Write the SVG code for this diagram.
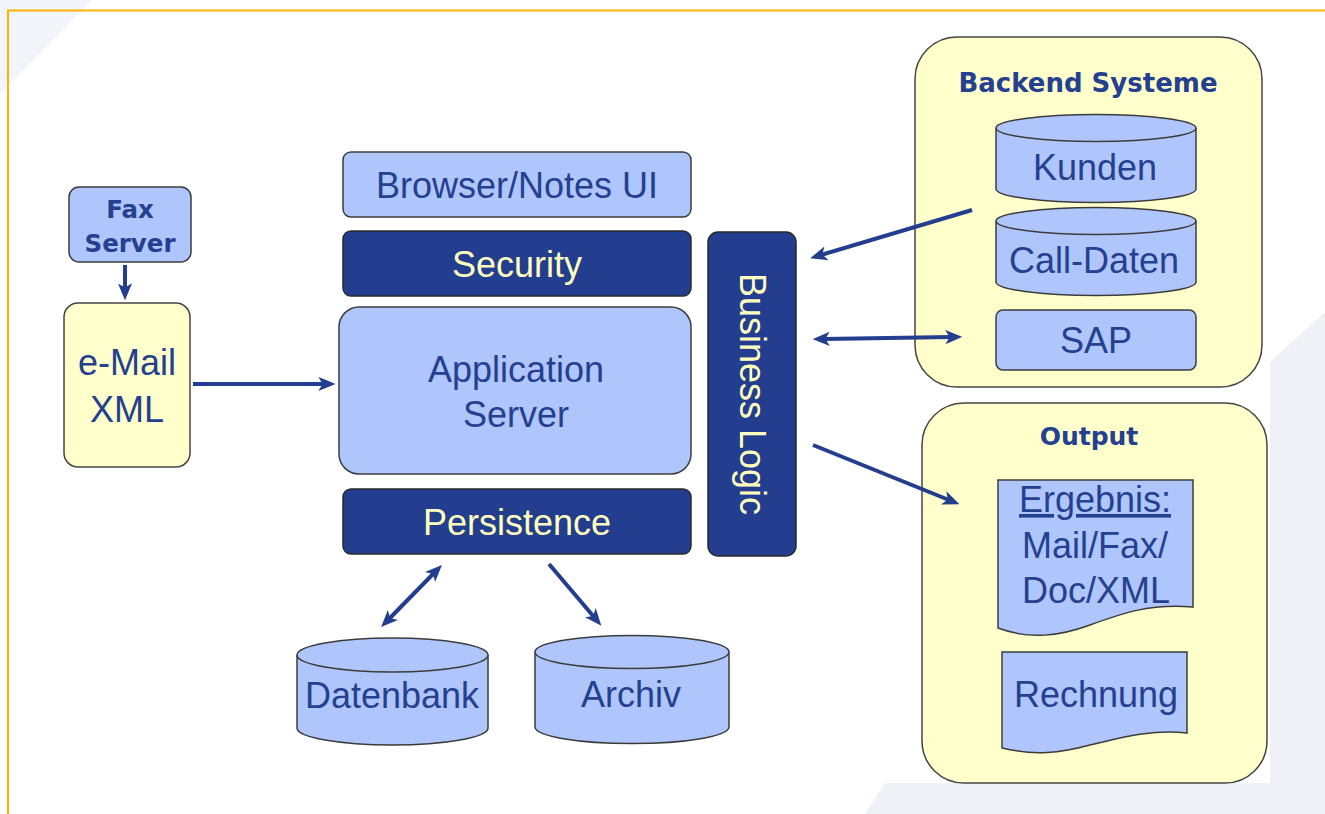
<svg xmlns="http://www.w3.org/2000/svg" width="1325" height="814" viewBox="0 0 1325 814">
<style>
.lt{fill:#AFC6FD;stroke:#3c3c3c;stroke-width:1.5}
.dk{fill:#233E8E;stroke:#2a2a2a;stroke-width:1.5}
.yl{fill:#FFFFCC;stroke:#444;stroke-width:1.5}
.t{font-family:"Liberation Sans",Arial,sans-serif;font-size:36px;fill:#24408F;text-anchor:middle}
.ty{font-family:"Liberation Sans",Arial,sans-serif;font-size:36px;fill:#FFFFC0;text-anchor:middle}
.tb{font-family:"DejaVu Sans",Verdana,sans-serif;font-weight:bold;fill:#24408F;text-anchor:middle}
.arr{stroke:#233E8E;stroke-width:4;fill:none;marker-end:url(#ah)}
.dbl{marker-start:url(#ah)}
</style>
<defs>
<marker id="ah" viewBox="0 0 12 10" refX="4" refY="5" markerWidth="17" markerHeight="15" markerUnits="userSpaceOnUse" orient="auto-start-reverse">
<path d="M0,0 L12,5 L0,10 L3,5 Z" fill="#233E8E"/>
</marker>
</defs>
<rect width="1325" height="814" fill="#ffffff"/>
<polygon points="0,0 92,0 0,94" fill="#F1F4F8"/>
<polygon points="1325,312 1270,362 1270,783 885,783 865,814 1325,814" fill="#EEF2F7"/>
<path d="M8,814 V10.5 H1325" fill="none" stroke="#FFB300" stroke-width="2"/>

<g id="fax-server">
<rect class="lt" x="69" y="187" width="122" height="75" rx="10"/>
<text class="tb" x="130" y="218" font-size="24.5">Fax</text>
<text class="tb" x="130" y="252" font-size="24.5">Server</text>
</g>
<g id="email-xml">
<rect class="yl" x="64" y="303" width="126" height="164" rx="14"/>
<text class="t" x="127" y="375">e-Mail</text>
<text class="t" x="127" y="422">XML</text>
</g>
<g id="browser-ui">
<rect class="lt" x="343" y="152" width="348" height="65" rx="8"/>
<text class="t" x="517" y="198">Browser/Notes UI</text>
</g>
<g id="security">
<rect class="dk" x="343" y="231" width="348" height="65" rx="8"/>
<text class="ty" x="517" y="277">Security</text>
</g>
<g id="application-server">
<rect class="lt" x="339" y="307" width="352" height="167" rx="20"/>
<text class="t" x="516" y="382">Application</text>
<text class="t" x="516" y="427">Server</text>
</g>
<g id="persistence">
<rect class="dk" x="343" y="489" width="348" height="65" rx="8"/>
<text class="ty" x="517" y="535">Persistence</text>
</g>
<g id="business-logic">
<rect class="dk" x="708" y="232" width="88" height="324" rx="10"/>
<text class="ty" transform="translate(740,394) rotate(90)" x="0" y="0">Business Logic</text>
</g>
<g id="datenbank">
<path class="lt" d="M297,655 V728 A95.5,17 0 0 0 488,728 V655"/>
<ellipse class="lt" cx="392.5" cy="655" rx="95.5" ry="17"/>
<text class="t" x="392" y="708">Datenbank</text>
</g>
<g id="archiv">
<path class="lt" d="M535,652 V727 A97,16.5 0 0 0 729,727 V652"/>
<ellipse class="lt" cx="632" cy="652" rx="97" ry="16.5"/>
<text class="t" x="631" y="707">Archiv</text>
</g>
<g id="backend-systeme">
<rect class="yl" x="915" y="37" width="347" height="350" rx="42"/>
<text class="tb" x="1088" y="92" font-size="26">Backend Systeme</text>
</g>
<g id="kunden">
<path class="lt" d="M996,128 V189 A100,13.5 0 0 0 1196,189 V128"/>
<ellipse class="lt" cx="1096" cy="128" rx="100" ry="13.5"/>
<text class="t" x="1095" y="180">Kunden</text>
</g>
<g id="call-daten">
<path class="lt" d="M996,221 V282 A100,13.5 0 0 0 1196,282 V221"/>
<ellipse class="lt" cx="1096" cy="221" rx="100" ry="13.5"/>
<text class="t" x="1094" y="273">Call-Daten</text>
</g>
<g id="sap">
<rect class="lt" x="996" y="310" width="200" height="60" rx="7"/>
<text class="t" x="1096" y="353">SAP</text>
</g>
<g id="output">
<rect class="yl" x="922" y="403" width="345" height="380" rx="42"/>
<text class="tb" x="1089" y="445" font-size="25">Output</text>
</g>
<g id="ergebnis">
<path class="lt" d="M998,480 H1193 V607 C1150,603 1120,614 1090,625 C1060,636 1030,640 998,628 Z"/>
<text class="t" x="1095" y="512" text-decoration="underline">Ergebnis:</text>
<text class="t" x="1095" y="558">Mail/Fax/</text>
<text class="t" x="1096" y="603">Doc/XML</text>
</g>
<g id="rechnung">
<path class="lt" d="M1002,652 H1187 V733 C1150,729 1120,738 1090,745 C1060,753 1035,756 1002,748 Z"/>
<text class="t" x="1096" y="707">Rechnung</text>
</g>

<g id="connectors">
<path class="arr" d="M125,265 V289"/>
<path class="arr" d="M193,384 H324"/>
<path class="arr" d="M972,210 L821,255"/>
<path class="arr dbl" d="M824,339 L951,337"/>
<path class="arr" d="M813,445 L949,500"/>
<path class="arr dbl" d="M434,573 L389,619"/>
<path class="arr" d="M549,564 L594,617"/>
</g>
</svg>
